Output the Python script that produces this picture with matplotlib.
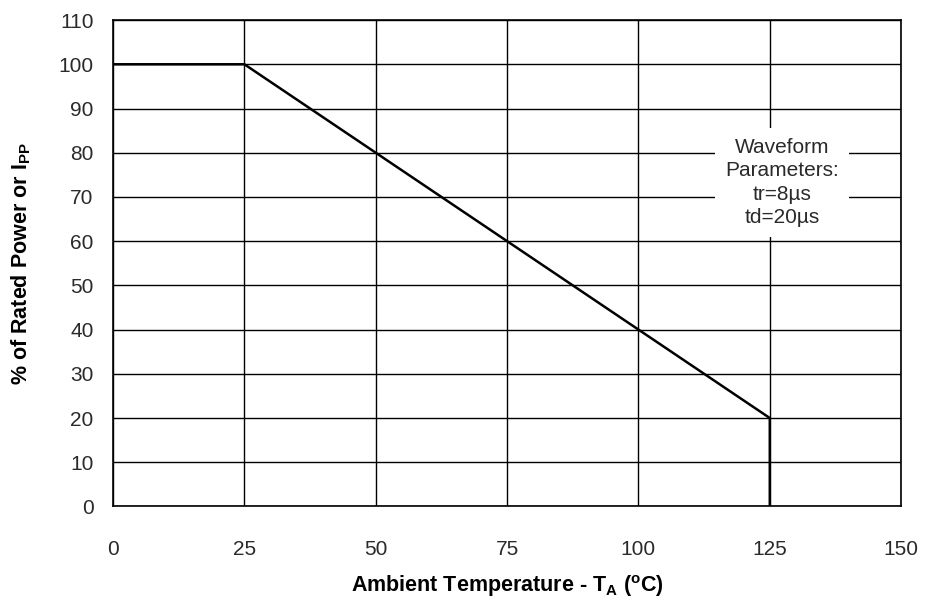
import matplotlib
matplotlib.use("Agg")
import matplotlib.pyplot as plt

# derating curve: % of rated power vs ambient temperature
temp = [0, 25, 125, 125]
power = [100, 100, 20, 0]

x_ticks = [0, 25, 50, 75, 100, 125, 150]
y_ticks = [0, 10, 20, 30, 40, 50, 60, 70, 80, 90, 100, 110]

font = "Liberation Sans"

fig = plt.figure(figsize=(9.25, 6.08), dpi=100)
ax = fig.add_axes([0.1222, 0.167, 0.852, 0.800])

ax.plot(temp, power, color="black", linewidth=1.8, solid_joinstyle="miter", zorder=3)

ax.set_xlim(0, 150)
ax.set_ylim(0, 110)
ax.set_xticks(x_ticks)
ax.set_yticks(y_ticks)
ax.grid(True, color="black", linewidth=1.0)
ax.tick_params(length=0, labelsize=15, labelcolor="#2a2a2a")
ax.tick_params(axis="y", pad=14)
ax.tick_params(axis="x", pad=24)
for lab in ax.get_xticklabels() + ax.get_yticklabels():
    lab.set_family(font)
for s in ax.spines.values():
    s.set_linewidth(1.2)

ax.set_xlabel(r"Ambient Temperature - T$_\mathregular{A}$ ($^\mathregular{o}$C)",
              fontfamily=font, fontweight="bold", fontsize=15.5, va="center")
ax.set_ylabel(r"% of Rated Power or I$_\mathregular{PP}$",
              fontfamily=font, fontweight="bold", fontsize=15.5, va="center")
ax.xaxis.set_label_coords(0.5, -0.163)
ax.yaxis.set_label_coords(-0.117, 0.5)

ax.text(127.3, 73.3, "Waveform\nParameters:\ntr=8\u00b5s\ntd=20\u00b5s",
        ha="center", va="center", fontsize=15, family=font, color="#2a2a2a",
        linespacing=1.3, zorder=4,
        bbox=dict(facecolor="white", edgecolor="none", pad=7))

fig.savefig("out.png", dpi=100)
